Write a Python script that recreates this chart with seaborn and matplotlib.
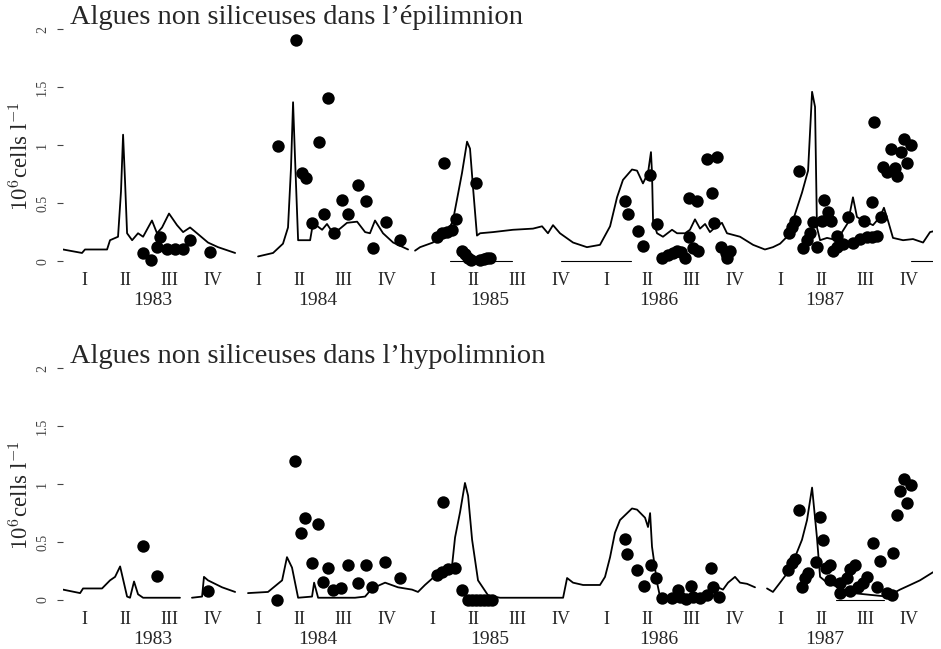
import numpy as np
import pandas as pd
import matplotlib
matplotlib.use("Agg")
import matplotlib.pyplot as plt
import seaborn as sns

nan = np.nan

# epilimnion - simulated curve (nan = break in the line)
epi_line_t = [1983.000, 1983.109, 1983.126, 1983.253, 1983.270, 1983.316, 1983.333, 1983.345, 1983.356,
              1983.368, 1983.397, 1983.431, 1983.460, 1983.511, 1983.540, 1983.569, 1983.609, 1983.655,
              1983.690, 1983.730, 1983.770, 1983.833, 1983.891, 1983.989, nan,
              1984.121, 1984.207, 1984.264, 1984.293, 1984.310, 1984.322, 1984.333, 1984.351, 1984.420,
              1984.437, 1984.489, 1984.517, 1984.552, 1984.592, 1984.632, 1984.690, 1984.736, 1984.764,
              1984.793, 1984.839, 1984.897, 1984.983, nan,
              1985.023, 1985.052, 1985.126, 1985.149, 1985.207, 1985.241, 1985.264, 1985.293, 1985.322,
              1985.339, 1985.356, 1985.379, 1985.397, 1985.471, 1985.586, 1985.701, 1985.753, 1985.787,
              1985.816, 1985.856, 1985.931, 1986.011, 1986.086, 1986.144, 1986.184, 1986.218, 1986.270,
              1986.299, 1986.333, 1986.362, 1986.379, 1986.385, 1986.391, 1986.414, 1986.448, 1986.500,
              1986.529, 1986.575, 1986.603, 1986.632, 1986.661, 1986.690, 1986.718, 1986.747, 1986.787,
              1986.816, 1986.891, 1986.966, 1987.034, 1987.080, 1987.121, 1987.161, 1987.195, 1987.247,
              1987.282, 1987.305, 1987.322, 1987.333, 1987.351, 1987.391, 1987.448, 1987.511, 1987.540,
              1987.563, 1987.598, 1987.655, 1987.695, 1987.718, 1987.741, 1987.770, 1987.828, 1987.885,
              1987.943, 1987.983, 1988.010]
epi_line_v = [0.10, 0.07, 0.10, 0.10, 0.18, 0.21, 0.60, 1.09, 0.70,
              0.24, 0.18, 0.24, 0.21, 0.35, 0.24, 0.29, 0.41, 0.31,
              0.25, 0.29, 0.24, 0.16, 0.12, 0.07, nan,
              0.04, 0.07, 0.15, 0.29, 0.80, 1.37, 0.90, 0.18, 0.18,
              0.33, 0.27, 0.32, 0.24, 0.28, 0.33, 0.34, 0.25, 0.24,
              0.35, 0.24, 0.16, 0.10, nan,
              0.09, 0.12, 0.16, 0.21, 0.24, 0.35, 0.53, 0.76, 1.03,
              0.97, 0.64, 0.22, 0.24, 0.25, 0.27, 0.28, 0.30, 0.24,
              0.31, 0.24, 0.16, 0.12, 0.14, 0.30, 0.55, 0.70, 0.79,
              0.78, 0.67, 0.76, 0.94, 0.76, 0.35, 0.24, 0.21, 0.27,
              0.24, 0.24, 0.27, 0.36, 0.28, 0.32, 0.25, 0.29, 0.33,
              0.24, 0.21, 0.14, 0.10, 0.12, 0.15, 0.21, 0.35, 0.59,
              0.78, 1.46, 1.33, 0.29, 0.18, 0.20, 0.18, 0.33, 0.55,
              0.38, 0.35, 0.31, 0.38, 0.46, 0.35, 0.20, 0.18, 0.19,
              0.16, 0.25, 0.26]

# thin curve lying on zero
epi_zero_t = [1985.222, 1985.580, nan, 1985.862, 1986.264, nan, 1987.874, 1988.010]
epi_zero_v = [0.0, 0.0, nan, 0.0, 0.0, nan, 0.0, 0.0]

# epilimnion - observations
epi_obs_t = [1983.460, 1983.506, 1983.540, 1983.557, 1983.598, 1983.644, 1983.690, 1983.730, 1983.845,
             1984.236, 1984.339, 1984.374, 1984.397, 1984.431, 1984.471, 1984.500, 1984.523, 1984.557,
             1984.603, 1984.638, 1984.695, 1984.741, 1984.782, 1984.856, 1984.937,
             1985.149, 1985.178, 1985.190, 1985.207, 1985.236, 1985.259, 1985.293, 1985.310, 1985.328,
             1985.345, 1985.374, 1985.397, 1985.420, 1985.437, 1985.454,
             1986.230, 1986.247, 1986.305, 1986.333, 1986.374, 1986.414, 1986.443, 1986.477, 1986.506,
             1986.529, 1986.552, 1986.575, 1986.598, 1986.598, 1986.621, 1986.644, 1986.649, 1986.701,
             1986.730, 1986.741, 1986.759, 1986.782, 1986.810, 1986.816, 1986.833,
             1987.172, 1987.190, 1987.207, 1987.230, 1987.253, 1987.276, 1987.293, 1987.310, 1987.333,
             1987.362, 1987.374, 1987.397, 1987.414, 1987.425, 1987.448, 1987.448, 1987.483, 1987.511,
             1987.540, 1987.580, 1987.603, 1987.621, 1987.649, 1987.649, 1987.661, 1987.678, 1987.701,
             1987.713, 1987.736, 1987.759, 1987.782, 1987.793, 1987.816, 1987.833, 1987.851, 1987.874]
epi_obs_v = [0.07, 0.01, 0.12, 0.21, 0.10, 0.10, 0.10, 0.18, 0.08,
             0.99, 1.91, 0.76, 0.72, 0.33, 1.03, 0.41, 1.41, 0.24,
             0.53, 0.41, 0.66, 0.52, 0.11, 0.34, 0.18,
             0.21, 0.24, 0.85, 0.25, 0.27, 0.36, 0.09, 0.06, 0.03,
             0.01, 0.67, 0.01, 0.02, 0.03, 0.03,
             0.52, 0.41, 0.26, 0.13, 0.74, 0.32, 0.03, 0.05, 0.07,
             0.09, 0.08, 0.03, 0.54, 0.21, 0.11, 0.52, 0.09, 0.88,
             0.59, 0.33, 0.90, 0.12, 0.07, 0.03, 0.09,
             0.24, 0.29, 0.35, 0.78, 0.11, 0.18, 0.24, 0.34, 0.12,
             0.35, 0.53, 0.42, 0.35, 0.09, 0.12, 0.22, 0.15, 0.38,
             0.16, 0.19, 0.35, 0.21, 0.51, 0.21, 1.20, 0.22, 0.38,
             0.81, 0.77, 0.97, 0.80, 0.73, 0.94, 1.05, 0.85, 1.00]

# hypolimnion - simulated curve
hypo_line_t = [1983.000, 1983.098, 1983.115, 1983.224, 1983.270, 1983.299, 1983.328, 1983.368, 1983.385,
               1983.408, 1983.431, 1983.460, 1983.672, nan,
               1983.741, 1983.799, 1983.810, 1983.833, 1983.914, 1983.989, nan,
               1984.063, 1984.178, 1984.259, 1984.287, 1984.316, 1984.351, 1984.431, 1984.443, 1984.466,
               1984.678, 1984.736, 1984.776, 1984.851, 1984.925, 1985.006, 1985.040, 1985.080, 1985.155,
               1985.236, 1985.253, 1985.282, 1985.310, 1985.328, 1985.351, 1985.385, 1985.443, 1985.511,
               1985.874, 1985.897, 1985.931, 1985.989, 1986.086, 1986.115, 1986.144, 1986.172, 1986.201,
               1986.270, 1986.299, 1986.345, 1986.362, 1986.374, 1986.385, 1986.414, 1986.431, 1986.736,
               1986.764, 1986.793, 1986.822, 1986.862, 1986.891, 1986.931, 1986.977, nan,
               1987.046, 1987.080, 1987.121, 1987.161, 1987.207, 1987.247, 1987.276, 1987.305, 1987.316,
               1987.333, 1987.351, 1987.391, 1987.540, 1987.736, 1987.810, 1987.868, 1987.925, 1988.000]
hypo_line_v = [0.09, 0.06, 0.10, 0.10, 0.17, 0.20, 0.29, 0.03, 0.02,
               0.16, 0.05, 0.02, 0.02, nan,
               0.02, 0.03, 0.20, 0.17, 0.11, 0.07, nan,
               0.06, 0.07, 0.17, 0.37, 0.28, 0.02, 0.03, 0.15, 0.02,
               0.02, 0.03, 0.10, 0.15, 0.11, 0.09, 0.07, 0.13, 0.23,
               0.30, 0.54, 0.76, 1.01, 0.90, 0.52, 0.17, 0.04, 0.02,
               0.02, 0.19, 0.15, 0.13, 0.13, 0.20, 0.37, 0.58, 0.69,
               0.79, 0.78, 0.71, 0.63, 0.75, 0.46, 0.15, 0.03, 0.03,
               0.11, 0.09, 0.15, 0.20, 0.15, 0.14, 0.11, nan,
               0.10, 0.07, 0.15, 0.23, 0.37, 0.52, 0.69, 0.97, 0.80,
               0.54, 0.20, 0.15, 0.06, 0.03, 0.09, 0.13, 0.17, 0.24]

hypo_zero_t = [1987.440, 1987.720]
hypo_zero_v = [0.0, 0.0]

# hypolimnion - observations
hypo_obs_t = [1983.460, 1983.540, 1983.833,
              1984.230, 1984.333, 1984.368, 1984.391, 1984.431, 1984.466, 1984.494, 1984.523, 1984.552,
              1984.598, 1984.638, 1984.695, 1984.741, 1984.776, 1984.851, 1984.937,
              1985.149, 1985.178, 1985.184, 1985.213, 1985.253, 1985.293, 1985.328, 1985.351, 1985.374,
              1985.397, 1985.420, 1985.443, 1985.466,
              1986.230, 1986.241, 1986.299, 1986.339, 1986.379, 1986.408, 1986.443, 1986.500, 1986.534,
              1986.546, 1986.580, 1986.609, 1986.621, 1986.661, 1986.701, 1986.724, 1986.736, 1986.770,
              1987.167, 1987.190, 1987.207, 1987.230, 1987.247, 1987.264, 1987.282, 1987.328, 1987.351,
              1987.368, 1987.385, 1987.408, 1987.408, 1987.466, 1987.466, 1987.506, 1987.523, 1987.523,
              1987.552, 1987.569, 1987.598, 1987.621, 1987.655, 1987.678, 1987.695, 1987.736, 1987.764,
              1987.770, 1987.793, 1987.810, 1987.833, 1987.851, 1987.874]
hypo_obs_v = [0.47, 0.21, 0.08,
              0.00, 1.20, 0.58, 0.71, 0.32, 0.66, 0.16, 0.28, 0.09,
              0.10, 0.30, 0.15, 0.30, 0.11, 0.33, 0.19,
              0.22, 0.24, 0.85, 0.27, 0.28, 0.09, 0.00, 0.00, 0.00,
              0.00, 0.00, 0.00, 0.00,
              0.53, 0.40, 0.26, 0.12, 0.30, 0.19, 0.02, 0.02, 0.09,
              0.03, 0.01, 0.12, 0.03, 0.02, 0.04, 0.28, 0.11, 0.03,
              0.26, 0.32, 0.35, 0.78, 0.11, 0.19, 0.23, 0.33, 0.72,
              0.52, 0.28, 0.30, 0.17, 0.06, 0.15, 0.19, 0.27, 0.08,
              0.30, 0.11, 0.15, 0.20, 0.49, 0.11, 0.34, 0.06, 0.04,
              0.41, 0.73, 0.94, 1.04, 0.84, 0.99]

years = [1983, 1984, 1985, 1986, 1987]
quarters = ["I", "II", "III", "IV"]
quarter_pos = [0.125, 0.36, 0.61, 0.86]
year_label_pos = [1983.517, 1984.466, 1985.454, 1986.425, 1987.379]
y_ticks = [0, 0.5, 1, 1.5, 2]
y_ticklabels = ["0", "0.5", "1", "1.5", "2"]

sns.set_style("white")
plt.rcParams["font.family"] = ["Liberation Serif", "DejaVu Serif"]
plt.rcParams["mathtext.fontset"] = "cm"


def segments(t, v):
    df = pd.DataFrame({"t": t, "v": v})
    df["seg"] = df["v"].isna().cumsum()
    return df.dropna()


def draw_panel(ax, line_t, line_v, zero_t, zero_v, obs_t, obs_v, title):
    sns.lineplot(data=segments(line_t, line_v), x="t", y="v", units="seg", estimator=None,
                 sort=False, color="black", lw=1.3, ax=ax)
    sns.lineplot(data=segments(zero_t, zero_v), x="t", y="v", units="seg", estimator=None,
                 sort=False, color="black", lw=0.8, ax=ax)
    sns.scatterplot(x=obs_t, y=obs_v, color="black", s=80, linewidth=0, ax=ax, zorder=3)

    ax.set_xlim(1983, 1988)
    ax.set_ylim(-0.06, 2.0)
    ax.set_xticks([y + q for y in years for q in quarter_pos])
    ax.set_xticklabels(quarters * len(years))
    ax.set_xticks(year_label_pos, minor=True)
    ax.set_xticklabels([str(y) for y in years], minor=True)
    ax.tick_params(axis="x", which="major", length=0, pad=3, labelsize=13)
    ax.tick_params(axis="x", which="minor", length=0, pad=17, labelsize=14)
    ax.set_yticks(y_ticks)
    ax.set_yticklabels(y_ticklabels, rotation=90, va="center")
    ax.tick_params(axis="y", length=4, width=0.8, pad=6, labelsize=10,
                   colors="#444444", left=True)
    ax.set_xlabel("")
    ax.set_ylabel(r"$10^6$cells l$^{-1}$", fontsize=16.5)
    ax.yaxis.set_label_coords(-0.034, 0.47)
    sns.despine(ax=ax, left=True, bottom=True)
    ax.text(0.008, 1.05, title, transform=ax.transAxes, fontsize=20.5, va="center", ha="left")


fig = plt.figure(figsize=(9.41, 6.49), dpi=100)
ax_top = fig.add_axes([0.067, 0.587, 0.9245, 0.368])
ax_bot = fig.add_axes([0.067, 0.0647, 0.9245, 0.368])

draw_panel(ax_top, epi_line_t, epi_line_v, epi_zero_t, epi_zero_v, epi_obs_t, epi_obs_v,
           "Algues non siliceuses dans l\u2019épilimnion")
draw_panel(ax_bot, hypo_line_t, hypo_line_v, hypo_zero_t, hypo_zero_v, hypo_obs_t, hypo_obs_v,
           "Algues non siliceuses dans l\u2019hypolimnion")

fig.savefig("out.png", dpi=100)
